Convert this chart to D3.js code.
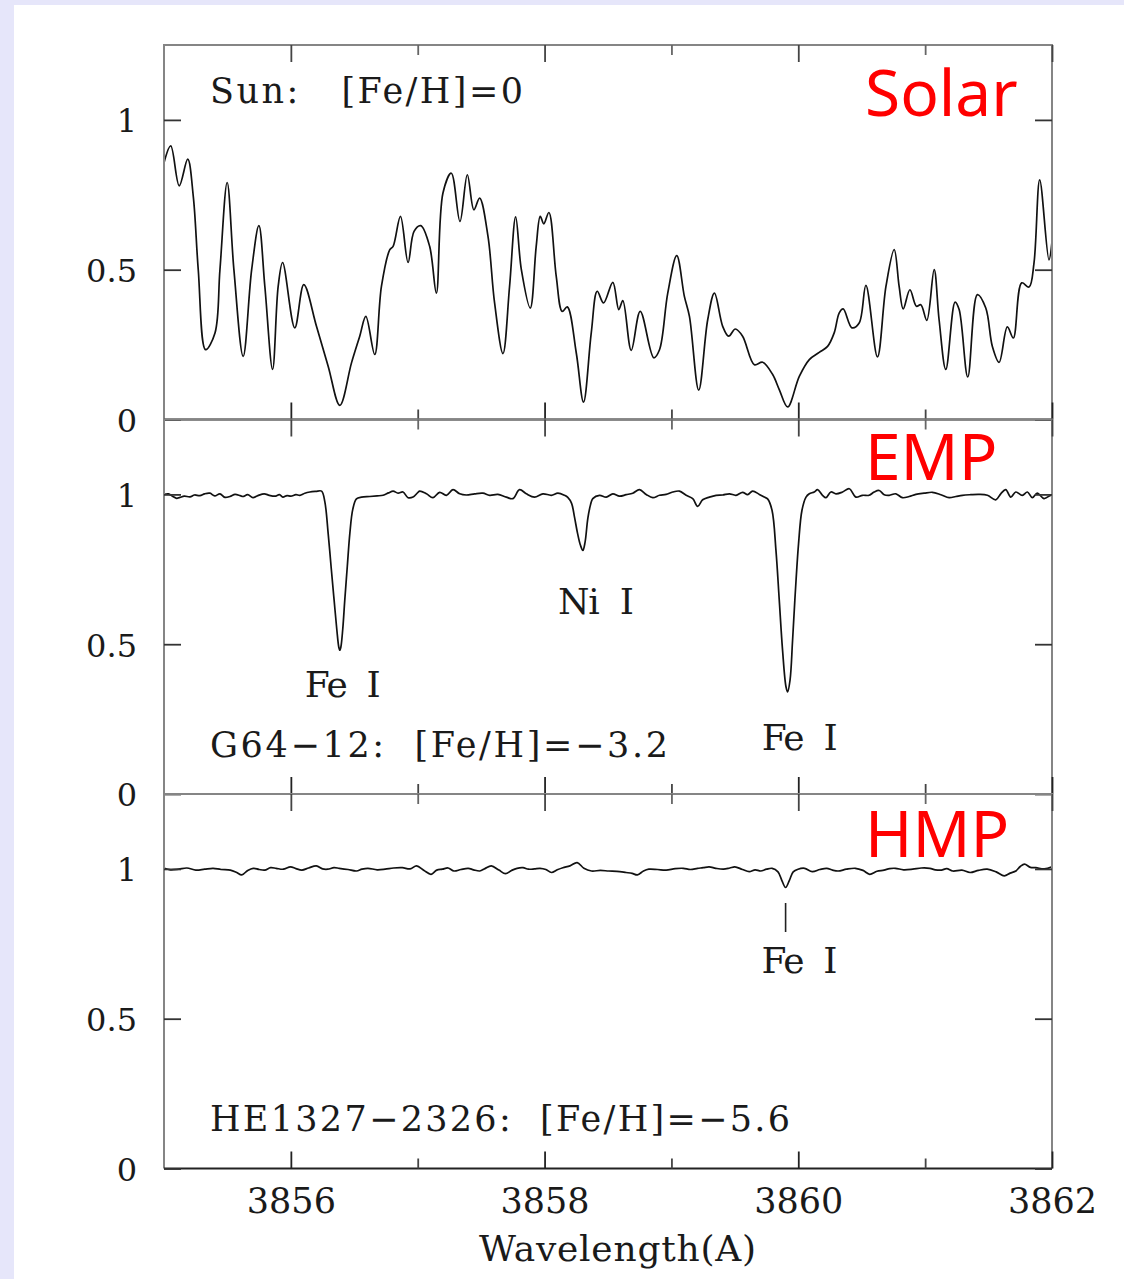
<!DOCTYPE html>
<html>
<head>
<meta charset="utf-8">
<script src="https://cdn.jsdelivr.net/npm/d3@7"></script>
<style>
  html, body { margin: 0; padding: 0; background: #e6e6fa; }
  svg { display: block; }
  text { white-space: pre; }
</style>
</head>
<body>
<svg id="chart" width="1124" height="1279"></svg>
<script>
// ---------------- DATA ----------------
const xDomain = [3855, 3862];
const yDomain = [0, 1.25];
const xMajorTicks = [3856, 3858, 3860, 3862];
const xMinorTicks = [3857, 3859, 3861];
const yTickValues = [0, 0.5, 1];
const yTickLabels = ["0", "0.5", "1"];
const panelNames = ["Solar", "EMP", "HMP"];
const starLabels = ["Sun:   [Fe/H]=0", "G64\u221212:  [Fe/H]=\u22123.2", "HE1327\u22122326:  [Fe/H]=\u22125.6"];
const xAxisTitle = "Wavelength(A)";

// Sun
const solar = [
[3855.000,0.857],[3855.053,0.913],[3855.120,0.780],[3855.187,0.869],[3855.231,0.744],[3855.270,0.500],
[3855.328,0.233],[3855.402,0.289],[3855.441,0.500],[3855.498,0.791],[3855.551,0.500],[3855.624,0.211],
[3855.691,0.500],[3855.748,0.647],[3855.795,0.444],[3855.856,0.167],[3855.900,0.444],[3855.935,0.524],
[3856.031,0.306],[3856.102,0.450],[3856.202,0.311],[3856.294,0.178],[3856.386,0.047],[3856.478,0.189],
[3856.543,0.278],[3856.591,0.344],[3856.661,0.217],[3856.714,0.444],[3856.780,0.567],[3856.806,0.578],
[3856.864,0.678],[3856.924,0.524],[3856.971,0.628],[3857.024,0.647],[3857.094,0.578],[3857.147,0.422],
[3857.199,0.756],[3857.265,0.822],[3857.333,0.661],[3857.391,0.817],[3857.443,0.700],[3857.488,0.739],
[3857.554,0.611],[3857.606,0.389],[3857.672,0.220],[3857.724,0.444],[3857.772,0.676],[3857.817,0.500],
[3857.887,0.372],[3857.934,0.578],[3857.966,0.678],[3857.994,0.653],[3858.034,0.691],[3858.092,0.478],
[3858.139,0.361],[3858.179,0.376],[3858.250,0.222],[3858.307,0.058],[3858.368,0.289],[3858.415,0.428],
[3858.465,0.389],[3858.538,0.458],[3858.585,0.367],[3858.617,0.397],[3858.683,0.231],[3858.754,0.361],
[3858.861,0.206],[3858.906,0.233],[3858.971,0.422],[3859.042,0.547],[3859.102,0.411],[3859.142,0.344],
[3859.215,0.098],[3859.286,0.333],[3859.339,0.422],[3859.404,0.311],[3859.451,0.278],[3859.504,0.302],
[3859.561,0.278],[3859.654,0.183],[3859.719,0.191],[3859.798,0.150],[3859.850,0.100],[3859.916,0.042],
[3860.008,0.144],[3860.087,0.200],[3860.165,0.224],[3860.231,0.244],[3860.283,0.289],[3860.323,0.356],
[3860.354,0.369],[3860.423,0.306],[3860.480,0.322],[3860.533,0.448],[3860.624,0.209],[3860.691,0.444],
[3860.756,0.567],[3860.795,0.444],[3860.827,0.369],[3860.880,0.433],[3860.931,0.378],[3860.966,0.383],
[3861.013,0.331],[3861.071,0.500],[3861.110,0.333],[3861.163,0.167],[3861.236,0.392],[3861.268,0.367],
[3861.336,0.142],[3861.412,0.417],[3861.478,0.372],[3861.530,0.244],[3861.583,0.191],[3861.648,0.309],
[3861.695,0.272],[3861.761,0.456],[3861.819,0.442],[3861.858,0.522],[3861.903,0.800],[3861.976,0.533],
[3862.000,0.594]
];

// G64-12 (EMP)
const emp = [
[3855.000,1.000],[3855.035,1.002],[3855.070,0.993],[3855.100,0.987],[3855.126,0.990],[3855.160,0.994],
[3855.205,0.992],[3855.240,0.998],[3855.283,0.996],[3855.320,1.002],[3855.362,1.004],[3855.400,0.995],
[3855.441,1.002],[3855.480,0.990],[3855.520,0.993],[3855.560,1.000],[3855.600,0.996],[3855.622,0.993],
[3855.660,0.999],[3855.701,0.989],[3855.740,0.996],[3855.790,1.002],[3855.830,0.997],[3855.874,0.994],
[3855.910,0.999],[3855.937,0.991],[3855.970,0.996],[3856.000,0.994],[3856.040,0.999],[3856.071,0.997],
[3856.110,1.004],[3856.150,1.008],[3856.197,1.010],[3856.242,1.011],
[3856.268,0.975],[3856.294,0.870],[3856.319,0.750],[3856.341,0.647],[3856.362,0.550],[3856.378,0.490],
[3856.386,0.480],[3856.394,0.490],[3856.409,0.550],[3856.425,0.647],[3856.445,0.760],[3856.465,0.870],
[3856.488,0.950],[3856.517,0.985],[3856.557,0.991],
[3856.622,0.993],[3856.680,0.995],[3856.727,0.997],[3856.770,1.005],[3856.806,1.011],[3856.845,1.004],
[3856.884,1.008],[3856.924,0.989],[3856.963,0.991],[3857.000,1.006],[3857.016,1.011],[3857.069,1.002],
[3857.120,0.989],[3857.173,1.007],[3857.226,0.997],[3857.278,1.016],[3857.331,1.002],[3857.383,0.998],
[3857.449,1.002],[3857.514,1.004],[3857.567,0.997],[3857.632,1.000],[3857.698,0.991],[3857.750,0.986],
[3857.803,1.016],[3857.856,1.002],[3857.921,0.991],[3857.987,1.002],[3858.053,0.997],[3858.105,1.004],
[3858.157,0.997],[3858.183,0.990],
[3858.213,0.970],[3858.236,0.924],[3858.260,0.870],[3858.283,0.830],[3858.302,0.813],[3858.319,0.840],
[3858.341,0.920],[3858.362,0.965],[3858.380,0.986],
[3858.433,0.997],[3858.486,0.991],[3858.538,1.002],[3858.591,0.994],[3858.643,0.999],[3858.695,1.004],
[3858.748,1.016],[3858.801,1.000],[3858.853,0.989],[3858.906,0.997],[3858.958,1.000],[3859.010,1.008],
[3859.063,1.011],[3859.116,0.997],[3859.168,0.986],[3859.207,0.960],[3859.246,0.982],[3859.299,0.991],
[3859.352,0.997],[3859.404,0.998],[3859.457,1.002],[3859.509,0.997],[3859.561,1.007],[3859.601,0.999],
[3859.640,1.011],[3859.693,1.000],[3859.732,0.991],[3859.758,0.985],
[3859.793,0.947],[3859.824,0.813],[3859.850,0.647],[3859.876,0.480],[3859.903,0.358],[3859.916,0.341],
[3859.935,0.380],[3859.955,0.513],[3859.976,0.669],[3860.002,0.835],[3860.029,0.947],[3860.061,0.991],
[3860.087,1.002],[3860.126,1.008],[3860.152,1.016],[3860.191,0.997],[3860.218,0.989],[3860.257,1.008],
[3860.297,1.002],[3860.349,1.008],[3860.402,1.019],[3860.454,0.991],[3860.506,0.997],[3860.559,0.997],
[3860.598,1.008],[3860.638,1.013],[3860.677,0.999],[3860.717,0.997],[3860.769,1.002],[3860.821,0.989],
[3860.874,0.993],[3860.927,1.000],[3860.992,1.004],[3861.057,1.007],[3861.124,0.999],[3861.189,0.989],
[3861.242,0.993],[3861.294,0.997],[3861.360,0.999],[3861.425,1.000],[3861.491,0.997],[3861.557,0.982],
[3861.596,1.002],[3861.635,1.016],[3861.675,0.991],[3861.714,1.008],[3861.766,0.997],[3861.806,1.008],
[3861.845,0.989],[3861.884,1.004],[3861.937,0.986],[3861.990,0.997],[3862.000,0.995]
];

// HE1327-2326 (HMP)
const hmp = [
[3855.003,1.002],[3855.050,0.997],[3855.116,0.999],[3855.180,1.003],[3855.251,0.996],[3855.320,0.999],
[3855.387,1.002],[3855.450,0.998],[3855.523,0.996],[3855.570,0.989],[3855.613,0.980],[3855.660,0.995],
[3855.703,1.002],[3855.750,0.998],[3855.794,0.996],[3855.840,1.004],[3855.884,1.002],[3855.940,0.999],
[3855.997,1.007],[3856.040,1.001],[3856.087,0.996],[3856.140,1.003],[3856.201,1.010],[3856.250,1.000],
[3856.291,0.999],[3856.340,1.004],[3856.381,1.002],[3856.450,0.998],[3856.517,0.993],[3856.560,0.999],
[3856.607,1.002],[3856.680,0.997],[3856.743,0.999],[3856.810,1.003],[3856.879,1.004],[3856.940,1.000],
[3856.991,1.010],[3857.050,0.995],[3857.105,0.982],[3857.150,0.996],[3857.195,0.999],[3857.240,1.003],
[3857.286,0.993],[3857.340,0.998],[3857.398,1.002],[3857.440,0.997],[3857.489,0.993],[3857.530,1.001],
[3857.580,1.010],[3857.640,0.996],[3857.692,0.984],[3857.740,0.995],[3857.783,1.002],[3857.830,1.004],
[3857.873,0.999],[3857.920,1.000],[3857.964,1.002],[3858.010,0.998],[3858.054,0.988],[3858.100,0.997],
[3858.144,1.004],[3858.200,1.010],[3858.257,1.021],[3858.310,1.002],[3858.370,0.993],[3858.440,0.995],
[3858.506,0.993],[3858.570,0.992],[3858.642,0.988],[3858.690,0.985],[3858.732,0.980],[3858.780,0.993],
[3858.822,0.999],[3858.890,0.998],[3858.958,0.996],[3859.030,1.001],[3859.094,1.002],[3859.150,0.998],
[3859.206,1.002],[3859.250,1.004],[3859.297,1.007],[3859.350,1.002],[3859.410,0.999],[3859.460,1.003],
[3859.500,1.007],[3859.560,0.998],[3859.613,0.991],[3859.660,0.997],[3859.704,0.993],[3859.750,0.999],
[3859.794,1.002],[3859.840,0.990],[3859.870,0.962],[3859.900,0.938],[3859.930,0.962],[3859.960,0.990],
[3859.998,0.999],[3860.050,1.002],[3860.110,0.991],[3860.170,0.998],[3860.224,1.002],[3860.270,0.996],
[3860.314,0.993],[3860.380,0.999],[3860.450,1.002],[3860.510,0.995],[3860.563,0.982],[3860.620,0.992],
[3860.676,0.996],[3860.720,1.001],[3860.766,1.002],[3860.830,0.997],[3860.902,0.999],[3860.970,1.003],
[3861.037,1.002],[3861.080,0.997],[3861.128,0.996],[3861.170,1.001],[3861.218,0.993],[3861.290,0.996],
[3861.354,0.988],[3861.420,0.995],[3861.489,0.999],[3861.560,0.990],[3861.624,0.977],[3861.670,0.986],
[3861.715,0.993],[3861.750,1.008],[3861.783,1.016],[3861.830,1.005],[3861.873,1.004],[3861.940,1.000],
[3862.000,1.007]
];

const spectra = [solar, emp, hmp];

// Line identifications: [panel index, text, wavelength]
const lineIds = [
  [1, "Fe  I", 3856.386],
  [1, "Ni  I", 3858.302],
  [1, "Fe  I", 3859.916],
  [2, "Fe  I", 3859.900]
];

// ---------------- DRAWING ----------------
const W = 1124, H = 1279;
const svg = d3.select("#chart");
const left = 164, right = 1052;
const panelTops = [45, 419.5, 794];
const panelH = 374.5;

svg.append("rect").attr("x", 0).attr("y", 0).attr("width", W).attr("height", H).attr("fill", "#e6e6fa");
svg.append("rect").attr("x", 14).attr("y", 5).attr("width", W - 14).attr("height", H - 5).attr("fill", "#ffffff");

const x = d3.scaleLinear().domain(xDomain).range([left, right]);
const serif = "'DejaVu Serif', 'Liberation Serif', serif";
const sans = "'Noto Sans', 'Open Sans', sans-serif";
const ink = "#1a1a1a";

const defs = svg.append("defs");

panelNames.forEach((name, i) => {
  const top = panelTops[i], bottom = top + panelH;
  const y = d3.scaleLinear().domain(yDomain).range([bottom, top]);
  const g = svg.append("g");

  defs.append("clipPath").attr("id", "clip" + i)
    .append("rect").attr("x", left).attr("y", top).attr("width", right - left).attr("height", panelH);

  // spectrum
  const line = d3.line().x(d => x(d[0])).y(d => y(d[1])).curve(d3.curveCatmullRom.alpha(0.5));
  g.append("path").datum(spectra[i])
    .attr("clip-path", "url(#clip" + i + ")")
    .attr("d", line)
    .attr("fill", "none").attr("stroke", "#111").attr("stroke-width", 1.7)
    .attr("stroke-linejoin", "round");

  // frame (left, top, right gray)
  g.append("path")
    .attr("d", `M${left},${bottom}V${top}H${right}V${bottom}`)
    .attr("fill", "none").attr("stroke", "#858585").attr("stroke-width", 2);
  // bottom axis line (dark)
  g.append("line").attr("x1", left).attr("x2", right).attr("y1", bottom).attr("y2", bottom)
    .attr("stroke", "#222").attr("stroke-width", 2);

  // x ticks, inward, top and bottom
  const mk = (axisFn, vals, size, ty, color) => {
    const a = g.append("g").attr("transform", `translate(0,${ty})`)
      .call(axisFn(x).tickValues(vals).tickSize(size).tickFormat(""));
    a.select(".domain").remove();
    a.selectAll(".tick line").attr("stroke", color).attr("stroke-width", 1.8);
    return a;
  };
  mk(d3.axisBottom, xMajorTicks, -17, bottom, "#222");
  mk(d3.axisBottom, xMinorTicks, -10, bottom, "#444");
  mk(d3.axisTop, xMajorTicks, -17, top, "#444");
  mk(d3.axisTop, xMinorTicks, -10, top, "#666");

  // y axes
  const ya = g.append("g").attr("transform", `translate(${left},0)`)
    .call(d3.axisLeft(y).tickValues(yTickValues).tickSize(-17).tickPadding(27)
      .tickFormat((d, k) => yTickLabels[k]));
  ya.select(".domain").remove();
  ya.selectAll(".tick line").attr("stroke", "#333").attr("stroke-width", 1.8);
  ya.selectAll(".tick text").attr("font-family", serif).attr("font-size", 32)
    .attr("fill", ink).attr("dy", "0.37em");

  const yr = g.append("g").attr("transform", `translate(${right},0)`)
    .call(d3.axisRight(y).tickValues(yTickValues).tickSize(-17).tickFormat(""));
  yr.select(".domain").remove();
  yr.selectAll(".tick line").attr("stroke", "#333").attr("stroke-width", 1.8);

  // red panel name
  g.append("text").attr("x", 865).attr("y", [116, 480, 857][i])
    .attr("font-family", sans).attr("font-size", 64).attr("fill", "#ff0000")
    .text(name);

  // star label
  g.append("text").attr("x", 210).attr("y", [103, 757, 1131][i])
    .attr("font-family", serif).attr("font-size", 35).attr("fill", ink)
    .attr("textLength", [313, 458, 580][i]).attr("lengthAdjust", "spacing")
    .text(starLabels[i]);

  // x tick labels on bottom panel
  if (i === 2) {
    const xa = g.append("g").attr("transform", `translate(0,${bottom})`)
      .call(d3.axisBottom(x).tickValues(xMajorTicks).tickSize(0).tickFormat(d3.format("d")));
    xa.select(".domain").remove();
    xa.selectAll(".tick text").attr("font-family", serif).attr("font-size", 35)
      .attr("fill", ink).attr("y", 44).attr("dy", null);
    g.append("text").attr("x", 479).attr("y", 1261)
      .attr("font-family", serif).attr("font-size", 36).attr("fill", ink)
      .attr("textLength", 277).attr("lengthAdjust", "spacing")
      .text(xAxisTitle);
  }
});

// line identifications
const labelPos = [
  {dx: -35, y: 697},
  {dx: -25, y: 614},
  {dx: -26, y: 750},
  {dx: -24, y: 973}
];
lineIds.forEach((d, k) => {
  svg.append("text").attr("x", x(d[2]) + labelPos[k].dx).attr("y", labelPos[k].y)
    .attr("font-family", serif).attr("font-size", 36).attr("fill", ink)
    .attr("textLength", 76).attr("lengthAdjust", "spacing")
    .text(d[1]);
});
// marker tick for HMP Fe I
svg.append("line").attr("x1", x(lineIds[3][2])).attr("x2", x(lineIds[3][2]))
  .attr("y1", 903).attr("y2", 932).attr("stroke", "#222").attr("stroke-width", 1.6);
</script>
</body>
</html>
